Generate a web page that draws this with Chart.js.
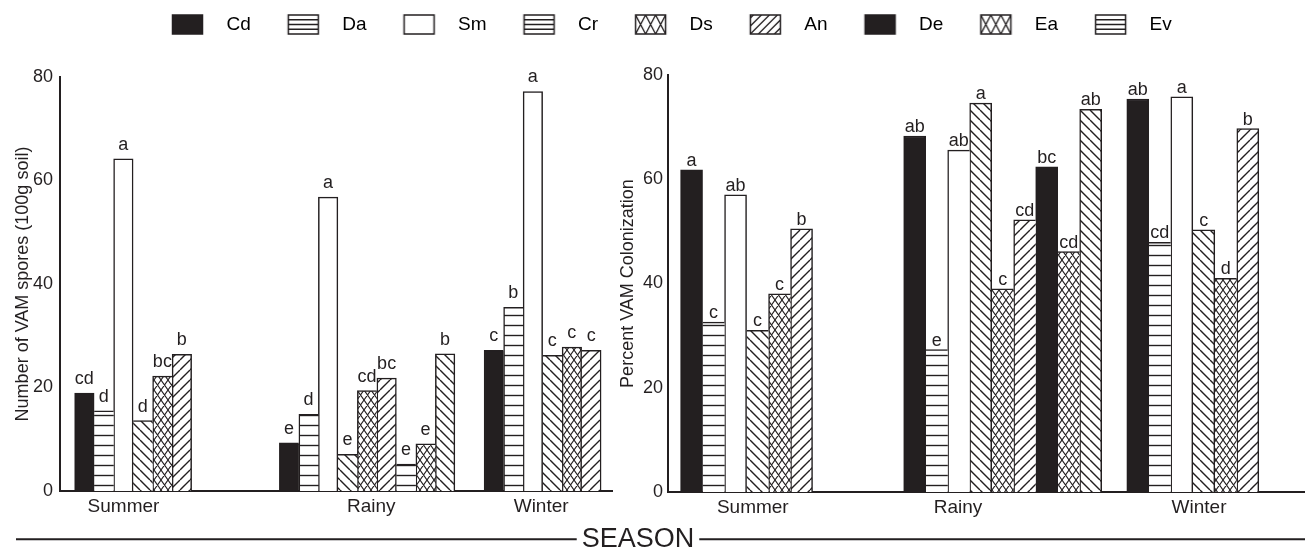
<!DOCTYPE html>
<html>
<head>
<meta charset="utf-8">
<script src="https://cdn.jsdelivr.net/npm/chart.js@4.4.1/dist/chart.umd.min.js"></script>
<style>
  html, body { margin: 0; padding: 0; background: #fff; }
  #wrap { position: relative; width: 1305px; height: 550px; overflow: hidden; }
  canvas { position: absolute; top: 0; }
</style>
</head>
<body>
<div id="wrap">
  <canvas id="frame" width="1305" height="550" style="left:0"></canvas>
  <canvas id="spores" width="640" height="550" style="left:0"></canvas>
  <canvas id="colon" width="705" height="550" style="left:600px"></canvas>
</div>
<script>
const seasons = ['Summer', 'Rainy', 'Winter'];
const species = ['Cd', 'Da', 'Sm', 'Cr', 'Ds', 'An', 'De', 'Ea', 'Ev'];

// spores per 100 g soil, one value per species (null = no bar)
const sporesSummer = [18.9, 15.5, 64.2, 13.6, 22.2, 26.4, null, null, null];
const sporesRainy  = [9.3, 14.8, 56.8, 7.1, 19.4, 21.8, 5.2, 9.1, 26.5];
const sporesWinter = [27.2, 35.5, 77.2, 26.2, 27.8, 27.2, null, null, null];
const sporesSummerSig = ['cd', 'd', 'a', 'd', 'bc', 'b'];
const sporesRainySig  = ['e', 'd', 'a', 'e', 'cd', 'bc', 'e', 'e', 'b'];
const sporesWinterSig = ['c', 'b', 'a', 'c', 'c', 'c'];

// percent colonization
const colonSummer = [61.8, 32.6, 57.0, 31.0, 38.0, 50.5, null, null, null];
const colonRainy  = [68.3, 27.3, 65.6, 74.6, 39.0, 52.2, 62.4, 46.1, 73.4];
const colonWinter = [75.4, 47.9, 75.8, 50.3, 41.0, 69.7, null, null, null];
const colonSummerSig = ['a', 'c', 'ab', 'c', 'c', 'b'];
const colonRainySig  = ['ab', 'e', 'ab', 'a', 'c', 'cd', 'bc', 'cd', 'ab'];
const colonWinterSig = ['ab', 'cd', 'a', 'c', 'd', 'b'];

const yTicks = [0, 20, 40, 60, 80];

const INK = '#231f20';
const FONT = '"Liberation Sans", Arial, sans-serif';
Chart.defaults.font.family = FONT;
Chart.defaults.color = INK;

// fill patterns as drawn in the figure (they don't all match the legend)
const legendLook = ['solid', 'hlines', 'empty', 'hlines', 'cross', 'slash', 'solid', 'cross', 'hlines'];
const sporesLook = ['solid', 'hlines', 'empty', 'bslash', 'cross', 'slash', 'hlines', 'cross', 'bslash'];
const colonLook  = ['solid', 'hlines', 'empty', 'bslash', 'cross', 'slash', 'solid', 'cross', 'bslash'];

function hatch(kind) {
  const [w, h] = { hlines: [4, 10], bslash: [10, 10], slash: [10, 10], cross: [7, 10] }[kind];
  const c = document.createElement('canvas');
  c.width = w; c.height = h;
  const g = c.getContext('2d');
  g.fillStyle = '#fff';
  g.fillRect(0, 0, w, h);
  g.strokeStyle = INK;
  g.lineWidth = kind === 'cross' ? 1.1 : 1.4;
  g.beginPath();
  if (kind === 'hlines') { g.moveTo(0, 5.5); g.lineTo(w, 5.5); }
  for (const dx of [-w, 0, w]) {
    if (kind === 'bslash' || kind === 'cross') { g.moveTo(dx, 0); g.lineTo(dx + w, h); }
    if (kind === 'slash' || kind === 'cross') { g.moveTo(dx, h); g.lineTo(dx + w, 0); }
  }
  g.stroke();
  return g.createPattern(c, 'repeat');
}

const fills = { solid: INK, empty: '#fff' };
['hlines', 'bslash', 'slash', 'cross'].forEach(k => { fills[k] = hatch(k); });

// legend swatch with empty space around it, so text sits further right
function legendIcon(kind) {
  const c = document.createElement('canvas');
  c.width = 72; c.height = 21;
  const g = c.getContext('2d');
  const x = 27.5, y = 1, w = 30, h = 19;
  g.save();
  g.beginPath(); g.rect(x, y, w, h); g.clip();
  g.fillStyle = kind === 'solid' ? INK : '#fff';
  g.fillRect(x, y, w, h);
  g.strokeStyle = INK; g.lineWidth = 1.3;
  g.beginPath();
  if (kind === 'hlines') {
    for (let k = 1; k < 4; k++) { g.moveTo(x, y + h * k / 4); g.lineTo(x + w, y + h * k / 4); }
  }
  if (kind === 'cross') {
    for (let i = 0; i < 3; i++) {
      const x0 = x + i * 10;
      g.moveTo(x0, y); g.lineTo(x0 + 10, y + h);
      g.moveTo(x0 + 10, y); g.lineTo(x0, y + h);
    }
  }
  if (kind === 'slash') {
    for (let i = -3; i < 5; i++) { const x0 = x + i * 8; g.moveTo(x0, y + h); g.lineTo(x0 + h, y); }
  }
  g.stroke();
  g.restore();
  g.strokeStyle = INK; g.lineWidth = 1.5;
  g.strokeRect(x, y, w, h);
  return c;
}

function buildDatasets(bySeason, sigBySeason, look) {
  return species.map((name, i) => ({
    label: name,
    data: bySeason
      .map((vals, s) => ({ x: s, y: vals[i], sig: sigBySeason[s][i] }))
      .filter(p => p.y != null),
    backgroundColor: fills[look[i]],
    borderColor: INK
  }));
}

// neighbouring bars share one outline, drawn by the taller of the two
function edge(ctx) {
  if (!ctx.raw) return 1.5;
  const sets = ctx.chart.data.datasets;
  const valueAt = i => {
    const p = sets[i] && sets[i].data.find(q => q.x === ctx.raw.x);
    return p ? p.y : null;
  };
  const own = ctx.raw.y;
  const prev = valueAt(ctx.datasetIndex - 1);
  const next = valueAt(ctx.datasetIndex + 1);
  return {
    top: 1.5,
    bottom: 0,
    left: prev != null && prev >= own ? 0 : 1.5,
    right: next != null && next > own ? 0 : 1.5
  };
}

const sigLetters = {
  id: 'sigLetters',
  afterDatasetsDraw(chart, args, opts) {
    const ctx = chart.ctx;
    ctx.save();
    ctx.font = '18px ' + FONT;
    ctx.fillStyle = INK;
    ctx.textAlign = 'center';
    ctx.textBaseline = 'alphabetic';
    chart.data.datasets.forEach((ds, i) => {
      chart.getDatasetMeta(i).data.forEach((bar, j) => {
        const sig = ds.data[j].sig;
        if (sig) ctx.fillText(sig, bar.x, bar.y - opts.gap);
      });
    });
    ctx.restore();
  }
};

const seasonRule = {
  id: 'seasonRule',
  afterDraw(chart) {
    const t = chart.titleBlock;
    const ctx = chart.ctx;
    ctx.save();
    ctx.font = '27px ' + FONT;
    const half = ctx.measureText('SEASON').width / 2;
    const cx = (t.left + t.right) / 2;
    const cy = t.top + t.height / 2;
    ctx.strokeStyle = INK;
    ctx.lineWidth = 2;
    ctx.beginPath();
    ctx.moveTo(16, cy); ctx.lineTo(cx - half - 5, cy);
    ctx.moveTo(cx + half + 5, cy); ctx.lineTo(1305, cy);
    ctx.stroke();
    ctx.restore();
  }
};

function seasonChart(id, datasets, c) {
  return new Chart(document.getElementById(id), {
    type: 'bar',
    data: { datasets },
    plugins: [sigLetters],
    options: {
      responsive: false,
      animation: false,
      events: [],
      layout: { padding: { top: c.top, right: c.right, bottom: 0, left: 0 } },
      datasets: { bar: { barThickness: c.bar, borderWidth: edge } },
      scales: {
        x: {
          type: 'linear', min: -0.5, max: c.xMax, offset: false,
          grid: { display: false, drawTicks: false },
          border: { display: true, color: INK, width: 2 },
          afterBuildTicks: s => { s.ticks = c.tickAt.map(value => ({ value })); },
          afterFit: s => { s.height = c.xHeight; },
          ticks: { autoSkip: false, maxRotation: 0, padding: 4, font: { size: 19 }, callback: (v, i) => seasons[i] }
        },
        y: {
          min: 0, max: 80,
          grid: { display: false, drawTicks: false },
          border: { display: true, color: INK, width: 2 },
          afterBuildTicks: s => { s.ticks = yTicks.map(value => ({ value })); },
          ticks: { padding: c.tickPad, font: { size: 18 } },
          title: { display: true, text: c.yTitle, font: { size: 18 }, padding: { top: c.titlePad, bottom: 0 } },
          afterFit: s => { s.width = c.yWidth; }
        }
      },
      plugins: {
        legend: { display: false },
        tooltip: { enabled: false },
        sigLetters: { gap: c.gap }
      }
    }
  });
}

seasonChart('spores',
  buildDatasets([sporesSummer, sporesRainy, sporesWinter], [sporesSummerSig, sporesRainySig, sporesWinterSig], sporesLook),
  { top: 77, right: 28, yWidth: 60, xHeight: 59, xMax: 2.196, tickAt: [-0.19, 1.02, 1.85],
    bar: 19.5, yTitle: 'Number of VAM spores (100g soil)', titlePad: 12, tickPad: 7, gap: 9 });

seasonChart('colon',
  buildDatasets([colonSummer, colonRainy, colonWinter], [colonSummerSig, colonRainySig, colonWinterSig], colonLook),
  { top: 75, right: 0, yWidth: 68, xHeight: 58, xMax: 2.355, tickAt: [-0.12, 0.8, 1.88],
    bar: 22, yTitle: 'Percent VAM Colonization', titlePad: 17, tickPad: 5, gap: 4 });

// shared legend on top and the SEASON caption at the bottom
const legendIcons = legendLook.map(legendIcon);
new Chart(document.getElementById('frame'), {
  type: 'bar',
  data: { labels: [], datasets: [] },
  plugins: [seasonRule],
  options: {
    responsive: false,
    animation: false,
    events: [],
    layout: { padding: { left: 135, right: 0, top: 5, bottom: 0 } },
    scales: {
      x: { display: false },
      y: {
        position: 'right',
        ticks: { display: false },
        grid: { display: false },
        border: { display: false },
        afterFit: s => { s.width = 164; }
      }
    },
    plugins: {
      tooltip: { enabled: false },
      legend: {
        position: 'top',
        align: 'start',
        labels: {
          usePointStyle: true,
          pointStyleWidth: 72,
          padding: 10,
          font: { size: 19 },
          color: INK,
          generateLabels: () => species.map((name, i) => ({
            text: name, pointStyle: legendIcons[i], fillStyle: INK, strokeStyle: INK,
            lineWidth: 0, hidden: false, datasetIndex: i
          }))
        }
      },
      title: {
        display: true, text: 'SEASON', position: 'bottom', fullSize: false, padding: 0,
        color: INK, font: { size: 27, weight: 'normal', lineHeight: 0.8 }
      }
    }
  }
});
</script>
</body>
</html>
